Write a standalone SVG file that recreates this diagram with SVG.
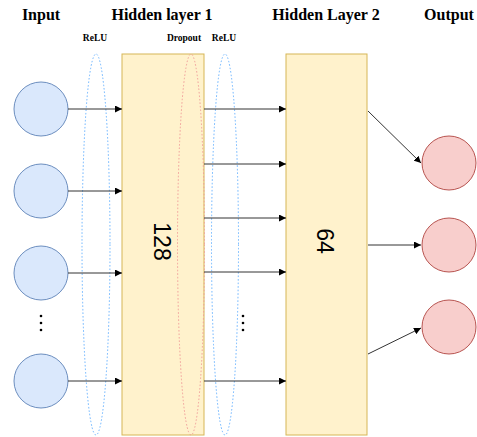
<svg xmlns="http://www.w3.org/2000/svg" width="477" height="437" viewBox="0 0 477 437">
<style>
.title{font-family:"Liberation Serif",serif;font-weight:bold;font-size:16px;fill:#000;text-anchor:middle}
.small{font-family:"Liberation Serif",serif;font-weight:bold;font-size:9.5px;fill:#000;text-anchor:middle}
.in{fill:#dae8fc;stroke:#6c8ebf;stroke-width:1}
.out{fill:#f8cecc;stroke:#b85450;stroke-width:1}
.layer{fill:#fff2cc;stroke:#d6b656;stroke-width:1}
.num{font-family:"Liberation Sans",sans-serif;font-size:23px;fill:#000;text-anchor:middle}
.relu{fill:none;stroke:#66b2ff;stroke-width:1;stroke-dasharray:1.5 2}
.drop{fill:none;stroke:#f19c99;stroke-width:1;stroke-dasharray:1.5 2}
.conn line{stroke:#333;stroke-width:1;marker-end:url(#arr)}
.dot{fill:#000}
</style>
<defs>
<marker id="arr" viewBox="0 0 10 10" refX="10" refY="5" markerWidth="7" markerHeight="7" markerUnits="userSpaceOnUse" orient="auto">
<path d="M0,0 L10,5 L0,10 z" fill="#000"/>
</marker>
</defs>
<rect width="477" height="437" fill="#fff"/>
<g id="titles">
<text class="title" x="41" y="20">Input</text>
<text class="title" x="162" y="20">Hidden layer 1</text>
<text class="title" x="326" y="20">Hidden Layer 2</text>
<text class="title" x="449" y="20">Output</text>
<text class="small" x="95" y="41">ReLU</text>
<text class="small" x="184" y="41">Dropout</text>
<text class="small" x="224" y="41">ReLU</text>
</g>
<g id="hidden1"><rect class="layer" x="122" y="54" width="82" height="381"/><text class="num" transform="translate(154,241.5) rotate(90)">128</text></g>
<g id="hidden2"><rect class="layer" x="286" y="54" width="81" height="381"/><text class="num" transform="translate(317,241) rotate(90)">64</text></g>
<g id="relu1"><ellipse class="relu" cx="96" cy="244.5" rx="14" ry="190.5"/></g>
<g id="dropout"><ellipse class="drop" cx="191" cy="244.5" rx="13.5" ry="190.5"/></g>
<g id="relu2"><ellipse class="relu" cx="225" cy="244.5" rx="13.5" ry="190.5"/></g>
<g id="input1"><circle class="in" cx="41" cy="109" r="27"/></g>
<g id="input2"><circle class="in" cx="41" cy="191" r="27"/></g>
<g id="input3"><circle class="in" cx="41" cy="273" r="27"/></g>
<g id="input4"><circle class="in" cx="41" cy="381" r="27"/></g>
<g id="inputdots"><circle class="dot" cx="41" cy="316" r="1.3"/><circle class="dot" cx="41" cy="323" r="1.3"/><circle class="dot" cx="41" cy="330" r="1.3"/></g>
<g id="hiddendots"><circle class="dot" cx="243" cy="316" r="1.3"/><circle class="dot" cx="243" cy="323" r="1.3"/><circle class="dot" cx="243" cy="330" r="1.3"/></g>
<g id="output1"><circle class="out" cx="449" cy="163" r="27"/></g>
<g id="output2"><circle class="out" cx="449" cy="245" r="27"/></g>
<g id="output3"><circle class="out" cx="449" cy="327" r="27"/></g>
<g id="connectors" class="conn">
<line x1="68" y1="109" x2="122" y2="109"/>
<line x1="68" y1="191" x2="122" y2="191"/>
<line x1="68" y1="273" x2="122" y2="273"/>
<line x1="68" y1="381" x2="122" y2="381"/>
<line x1="204" y1="109" x2="286" y2="109"/>
<line x1="204" y1="164" x2="286" y2="164"/>
<line x1="204" y1="218" x2="286" y2="218"/>
<line x1="204" y1="272" x2="286" y2="272"/>
<line x1="204" y1="381" x2="286" y2="381"/>
<line x1="368" y1="111" x2="421" y2="163"/>
<line x1="368" y1="245" x2="421" y2="245"/>
<line x1="368" y1="354" x2="421" y2="328"/>
</g>
</svg>
